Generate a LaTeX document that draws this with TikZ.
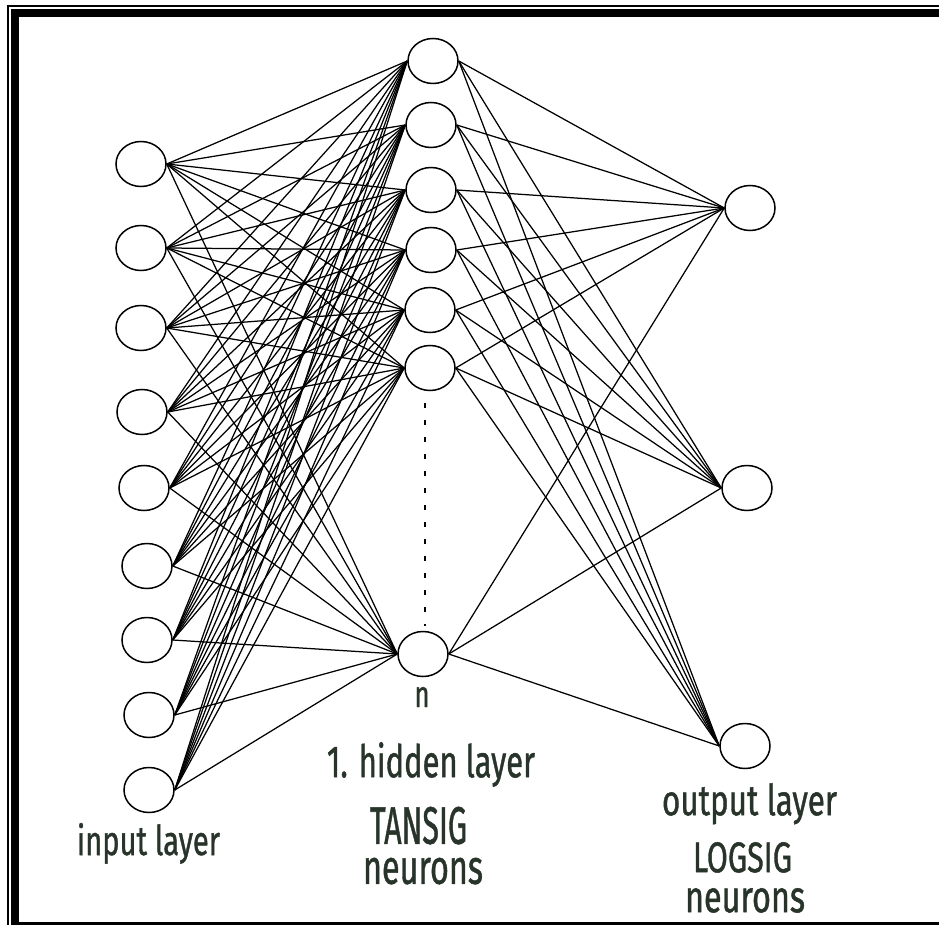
\documentclass[tikz,border=0pt]{standalone}
\usepackage{fontspec}
\usepackage{graphicx}
\setmainfont{Fira Sans}
\newfontfamily\lblfont[FakeBold=1.2]{Fira Sans}
\usetikzlibrary{shapes.geometric}
\definecolor{txt}{RGB}{40,52,42}
\begin{document}
\begin{tikzpicture}[x=1pt,y=-1pt,
  neuron/.style={draw=black, line width=1.5pt, ellipse, minimum width=50pt, minimum height=45pt, inner sep=0pt},
  conn/.style={line width=1.25pt, black},
  lbl/.style={anchor=base, text=txt, inner sep=0pt, font=\lblfont},
  block/.style={anchor=north, text=txt, inner sep=0pt, align=center, font=\lblfont\fontsize{10}{40}\selectfont},
  frame/.style={black}]
\useasboundingbox (0,0) rectangle (939,925);
% frame
\draw[frame, line width=2pt] (8,925) -- (8,6) -- (939,6);
\draw[frame, line width=8pt] (15,925) -- (15,13) -- (939,13);
\fill[frame] (11,922) rectangle (939,925);
% input layer
\node[neuron] (i1) at (141,164) {};
\node[neuron] (i2) at (141,248) {};
\node[neuron] (i3) at (141,328) {};
\node[neuron] (i4) at (142,412) {};
\node[neuron] (i5) at (144,488) {};
\node[neuron] (i6) at (147,566) {};
\node[neuron] (i7) at (147,640) {};
\node[neuron] (i8) at (149,715) {};
\node[neuron] (i9) at (149,790) {};
% hidden layer
\node[neuron] (h1) at (433,61) {};
\node[neuron] (h2) at (431,125) {};
\node[neuron] (h3) at (431,190) {};
\node[neuron] (h4) at (431,250) {};
\node[neuron] (h5) at (430,310) {};
\node[neuron] (h6) at (430,368) {};
\node[neuron] (hn) at (423,654) {};
% output layer
\node[neuron] (o1) at (750,208) {};
\node[neuron] (o2) at (747,488) {};
\node[neuron] (o3) at (745,746) {};
% connections
\foreach \i in {1,...,9}
  \foreach \h in {h1,h2,h3,h4,h5,h6,hn}
    \draw[conn] (i\i.east) -- (\h.west);
\foreach \h in {h1,h2,h3,h4,h5,h6,hn}
  \foreach \o in {1,2,3}
    \draw[conn] (\h.east) -- (o\o.west);
% dots
\coordinate (d1) at (425,403);
\coordinate (d2) at (425,626);
\draw[line width=2.5pt, dash pattern=on 5pt off 12pt] (d1) -- (d2);
% labels
\node[lbl] (tn) at (422,707) {\resizebox{15pt}{20pt}{n}};
\node[lbl] (tin) at (148.5,855) {\resizebox{143pt}{32pt}{input layer}};
\node[block] (thid) at (431,742) {\resizebox{208pt}{35pt}{1. hidden layer}\\[19pt]
  \resizebox{97pt}{37pt}{TANSIG}\kern25pt\\
  \resizebox{120pt}{26pt}{neurons}\kern16pt};
\node[block] (tout) at (749.5,783) {\resizebox{175pt}{32pt}{output layer}\\[17pt]
  \resizebox{99pt}{30pt}{LOGSIG}\kern14pt\\
  \resizebox{120pt}{24pt}{neurons}\kern9pt};
\end{tikzpicture}
\end{document}
